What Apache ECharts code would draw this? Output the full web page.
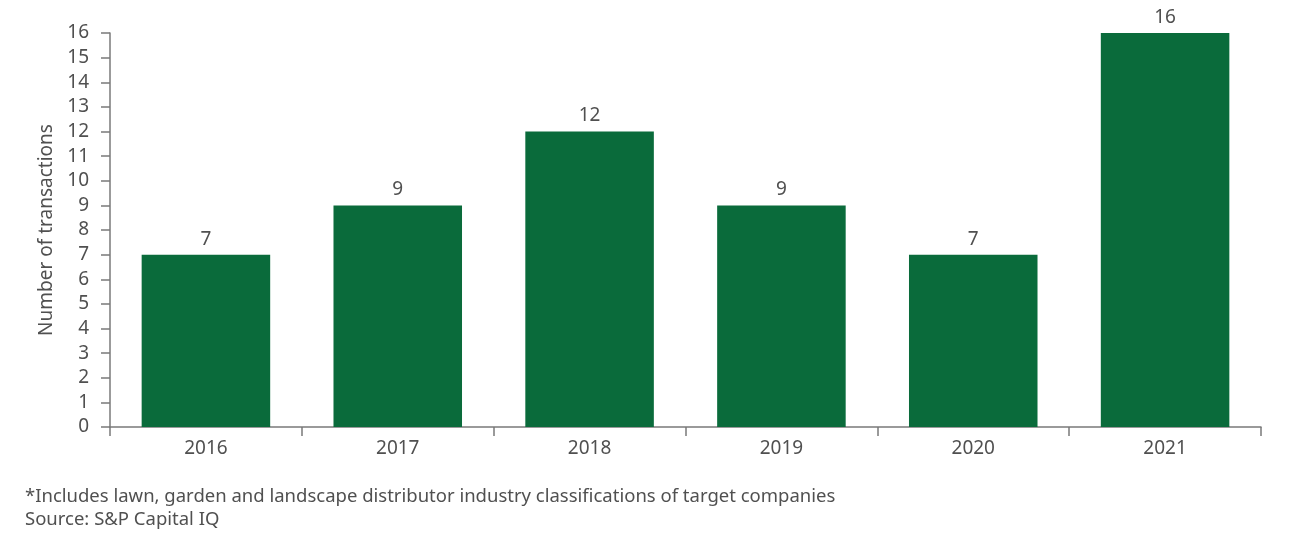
<!DOCTYPE html>
<html><head><meta charset="utf-8">
<script src="https://cdn.jsdelivr.net/npm/echarts@6/dist/echarts.min.js"></script>
<style>html,body{margin:0;padding:0;background:#fff}#c{width:1300px;height:555px}</style>
</head><body><div id="c"></div>
<script>
const categories = ['2016','2017','2018','2019','2020','2021'];
const transactions = [7, 9, 12, 9, 7, 16];
const yAxisName = 'Number of transactions';
const footnotes = ['*Includes lawn, garden and landscape distributor industry classifications of target companies', 'Source: S&P Capital IQ'];

const chart = echarts.init(document.getElementById('c'));
const font = '"Noto Sans", sans-serif';
const txt = '#505050';
chart.setOption({
  animation: false,
  textStyle: {fontFamily: font},
  grid: {left: 110, right: 39, top: 33, bottom: 128, containLabel: false},
  xAxis: {
    type: 'category', data: categories,
    axisLine: {lineStyle: {color: '#7a7a7a', width: 1.5}},
    axisTick: {show: true, length: 9, lineStyle: {color: '#7a7a7a', width: 1.5}},
    axisLabel: {color: txt, fontSize: 19, margin: 12, fontFamily: font}
  },
  yAxis: {
    type: 'value', min: 0, max: 16, interval: 1,
    name: yAxisName, nameLocation: 'middle', nameGap: 53, nameRotate: 90,
    nameTextStyle: {color: txt, fontSize: 19, fontFamily: font},
    axisLine: {show: true, lineStyle: {color: '#7a7a7a', width: 1.5}},
    axisTick: {show: true, length: 9, lineStyle: {color: '#7a7a7a', width: 1.5}},
    splitLine: {show: false},
    axisLabel: {color: txt, fontSize: 19, margin: 21, fontFamily: font}
  },
  series: [{
    type: 'bar', data: transactions, barWidth: '67%',
    itemStyle: {color: '#0a6b3b'},
    label: {show: true, position: 'top', distance: 6, color: txt, fontSize: 19, fontFamily: font}
  }],
  graphic: [
    {type: 'text', left: 25, top: 487, style: {text: footnotes[0], fontSize: 18.5, fill: txt, fontFamily: font}},
    {type: 'text', left: 25, top: 510, style: {text: footnotes[1], fontSize: 18.5, fill: txt, fontFamily: font}}
  ]
});
</script></body></html>
